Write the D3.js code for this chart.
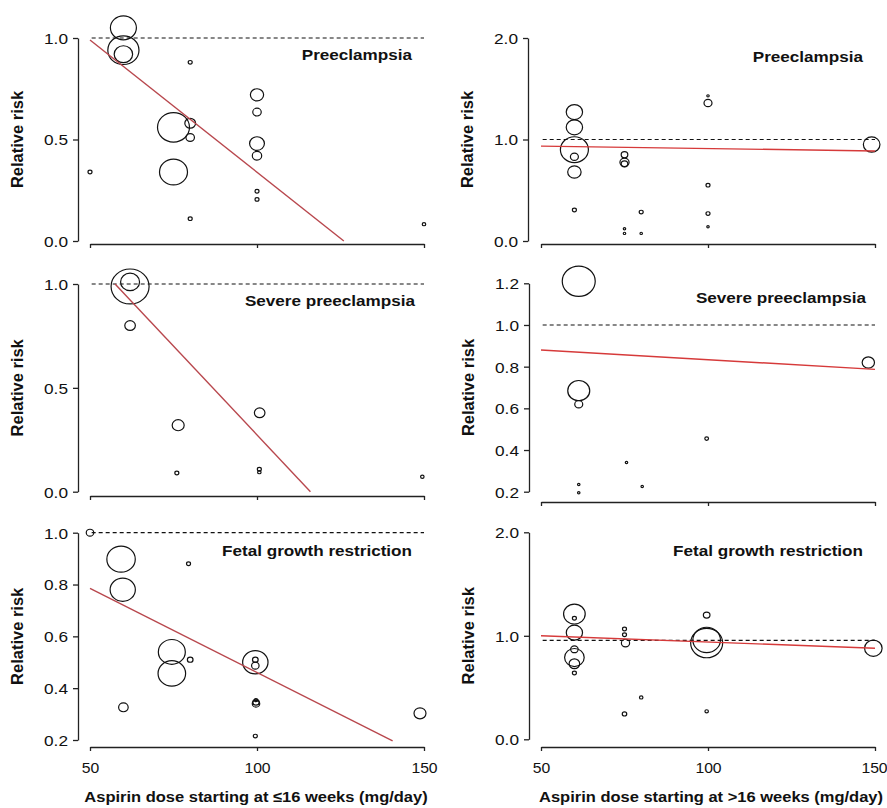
<!DOCTYPE html>
<html>
<head>
<meta charset="utf-8">
<script src="https://cdn.jsdelivr.net/npm/d3@7"></script>
<style>
  body { margin: 0; background: #fff; }
  svg { display: block; font-family: "Liberation Sans", Arial, sans-serif; }
</style>
</head>
<body>
<div id="chart"></div>
<script>
// ---- data ----
const xTicks = [50, 100, 150];
const xLabels = ['Aspirin dose starting at \u226416 weeks (mg/day)', 'Aspirin dose starting at >16 weeks (mg/day)'];
const titles = ['Preeclampsia', 'Preeclampsia', 'Severe preeclampsia', 'Severe preeclampsia',
  'Fetal growth restriction', 'Fetal growth restriction'];

// Preeclampsia, <=16 weeks
const preLowDose = [50, 60, 60, 60, 80, 75, 75, 80, 80, 80, 100, 100, 100, 100, 100, 100, 150];
const preLowRR = [0.34, 1.05, 0.94, 0.92, 0.88, 0.56, 0.34, 0.58, 0.51, 0.11, 0.72, 0.635, 0.48, 0.42, 0.245, 0.205, 0.083];
const preLowWeight = [4, 169, 243, 85, 4, 256, 196, 29, 18, 4, 44, 18, 55, 22, 4, 4, 3];
const preLowFit = [[50, 0.99], [126, 0]];
const preLowTicks = [0, 0.5, 1.0];

// Preeclampsia, >16 weeks
const preHighDose = [60, 60, 60, 60, 60, 60, 75, 75, 75, 75, 75, 80, 80, 100, 100, 100, 100, 100, 149];
const preHighRR = [1.27, 1.12, 0.90, 0.83, 0.68, 0.305, 0.85, 0.775, 0.76, 0.12, 0.075, 0.285, 0.075, 1.43, 1.36, 0.55, 0.27, 0.14, 0.95];
const preHighWeight = [67, 67, 196, 16, 45, 4, 11, 21, 11, 1.5, 1.5, 4, 1.5, 1.5, 16, 4, 4, 1.5, 69];
const preHighFit = [[50, 0.935], [150, 0.887]];
const preHighTicks = [0, 1.0, 2.0];

// Severe preeclampsia, <=16 weeks
const sevLowDose = [62, 62, 62, 76.4, 76, 100.8, 100.7, 100.7, 149.5];
const sevLowRR = [0.988, 1.01, 0.80, 0.32, 0.09, 0.38, 0.108, 0.094, 0.072];
const sevLowWeight = [361, 90, 28, 36, 4, 28, 4, 3, 3];
const sevLowFit = [[57.5, 1.0], [116, 0]];
const sevLowTicks = [0, 0.5, 1.0];

// Severe preeclampsia, >16 weeks
const sevHighDose = [61.3, 61.3, 61.3, 61.3, 61.3, 75.6, 80.3, 99.6, 148];
const sevHighRR = [1.21, 0.685, 0.62, 0.235, 0.195, 0.34, 0.225, 0.455, 0.82];
const sevHighWeight = [272, 121, 16, 1.5, 1.5, 1.5, 1.5, 3.5, 38];
const sevHighFit = [[50, 0.88], [150, 0.787]];
const sevHighTicks = [0.2, 0.4, 0.6, 0.8, 1.0, 1.2];

// Fetal growth restriction, <=16 weeks
const fgrLowDose = [50, 59.3, 59.8, 79.5, 60, 74.5, 74.5, 80, 99.5, 99.5, 99.5, 99.7, 99.7, 99.7, 99.5, 148.8];
const fgrLowRR = [1.0, 0.898, 0.78, 0.88, 0.326, 0.54, 0.457, 0.51, 0.50, 0.51, 0.487, 0.354, 0.346, 0.34, 0.215, 0.303];
const fgrLowWeight = [14, 202, 159, 4, 23, 182, 190, 8, 161, 8, 14, 3, 10, 14, 4, 36];
const fgrLowFit = [[50, 0.785], [140.6, 0.197]];
const fgrLowTicks = [0.2, 0.4, 0.6, 0.8, 1.0];

// Fetal growth restriction, >16 weeks
const fgrHighDose = [60, 60, 60, 60, 60, 60, 60, 75, 75, 75.3, 75, 80, 99.6, 99.6, 99.6, 99.6, 149.5];
const fgrHighRR = [1.21, 1.17, 1.03, 0.87, 0.79, 0.73, 0.64, 1.066, 1.01, 0.93, 0.245, 0.405, 1.20, 0.93, 0.96, 0.27, 0.88];
const fgrHighWeight = [117, 4, 66, 14, 96, 28, 4, 4, 4, 17, 5, 3, 11, 256, 190, 3, 77];
const fgrHighFit = [[50, 1.0], [150, 0.88]];
const fgrHighTicks = [0, 1.0, 2.0];

const refLevels = [1.0, 1.0, 1.0, 1.0, 1.0, 0.955];

// ---- layout ----
const WIDTH = 887, HEIGHT = 808;
const LEFT_X = [90, 424], RIGHT_X = [541, 875];

const panels = [
  { dose: preLowDose, rr: preLowRR, w: preLowWeight, fit: preLowFit, ticks: preLowTicks,
    xr: LEFT_X, yr: [241, 38], axisX: 78, axisY: 244, titleX: 412, titleY: 60, red: '#b8474d' },
  { dose: preHighDose, rr: preHighRR, w: preHighWeight, fit: preHighFit, ticks: preHighTicks,
    xr: RIGHT_X, yr: [241, 38], axisX: 528, axisY: 244, titleX: 863, titleY: 62, red: '#d63a3a' },
  { dose: sevLowDose, rr: sevLowRR, w: sevLowWeight, fit: sevLowFit, ticks: sevLowTicks,
    xr: LEFT_X, yr: [491.7, 284], axisX: 78, axisY: 496, titleX: 415, titleY: 306, red: '#b8474d' },
  { dose: sevHighDose, rr: sevHighRR, w: sevHighWeight, fit: sevHighFit, ticks: sevHighTicks,
    xr: RIGHT_X, yr: [491.7, 283.3], axisX: 529, axisY: 502, titleX: 866, titleY: 303, red: '#d63a3a' },
  { dose: fgrLowDose, rr: fgrLowRR, w: fgrLowWeight, fit: fgrLowFit, ticks: fgrLowTicks,
    xr: LEFT_X, yr: [740, 532.7], axisX: 78, axisY: 747, titleX: 412, titleY: 556, red: '#b8474d', bottom: 0 },
  { dose: fgrHighDose, rr: fgrHighRR, w: fgrHighWeight, fit: fgrHighFit, ticks: fgrHighTicks,
    xr: RIGHT_X, yr: [739.3, 532.3], axisX: 529, axisY: 747, titleX: 863, titleY: 556, red: '#d63a3a', bottom: 1 }
];

const svg = d3.select('#chart').append('svg')
  .attr('width', WIDTH)
  .attr('height', HEIGHT);

const rScale = d3.scaleSqrt().domain([0, 256]).range([0, 16]);
const fmt = d3.format('.1f');

panels.forEach((p, i) => {
  const x = d3.scaleLinear().domain([50, 150]).range(p.xr);
  const y = d3.scaleLinear().domain(d3.extent(p.ticks)).range(p.yr);
  const g = svg.append('g');

  // y axis
  const yAxis = g.append('g')
    .attr('transform', `translate(${p.axisX},0)`)
    .call(d3.axisLeft(y).tickValues(p.ticks).tickFormat(fmt).tickSize(5).tickSizeOuter(0));
  yAxis.selectAll('text')
    .attr('x', 0).attr('dy', '0.36em')
    .attr('transform', 'translate(-10,0) scale(1.15,1)')
    .style('font-size', '15px').style('fill', '#111');

  // x axis
  const xAxis = g.append('g')
    .attr('transform', `translate(0,${p.axisY})`)
    .call(d3.axisBottom(x).tickValues(xTicks).tickSize(4).tickSizeOuter(0)
      .tickFormat(p.bottom === undefined ? '' : d3.format('d')));
  xAxis.selectAll('text')
    .attr('y', 0).attr('dy', 0)
    .attr('transform', (d, k) => `translate(${p.bottom === 1 && k === 2 ? -1 : 0},26) scale(1.05,1)`)
    .style('font-size', '15px').style('fill', '#111');

  g.selectAll('.domain, .tick line').style('stroke', '#222').style('stroke-width', 1.3);

  // y label
  g.append('text')
    .attr('transform', `translate(${p.axisX - 61},${(p.yr[0] + p.yr[1]) / 2}) rotate(-90)`)
    .attr('text-anchor', 'middle')
    .attr('dy', '0.36em')
    .style('font-size', '16.5px').style('font-weight', 'bold').style('fill', '#111')
    .text('Relative risk');

  // reference line
  g.append('line')
    .attr('x1', x(50.5)).attr('x2', x(150))
    .attr('y1', y(refLevels[i])).attr('y2', y(refLevels[i]))
    .style('stroke', '#111').style('stroke-width', 1.2)
    .style('stroke-dasharray', '4,3');

  // bubbles
  const pts = p.dose.map((d, j) => ({ dose: d, rr: p.rr[j], w: p.w[j] }));
  g.selectAll('ellipse')
    .data(pts)
    .enter()
    .append('ellipse')
    .attr('cx', d => x(d.dose))
    .attr('cy', d => y(d.rr))
    .attr('rx', d => rScale(d.w))
    .attr('ry', d => rScale(d.w) * 0.92)
    .style('fill', 'none')
    .style('stroke', '#111')
    .style('stroke-width', 1.2);

  // meta-regression line
  g.append('path')
    .attr('d', d3.line().x(d => x(d[0])).y(d => y(d[1]))(p.fit))
    .style('fill', 'none')
    .style('stroke', p.red)
    .style('stroke-width', 1.4);

  // title
  g.append('text')
    .attr('transform', `translate(${p.titleX},${p.titleY}) scale(1.18,1)`)
    .attr('text-anchor', 'end')
    .style('font-size', '14.5px').style('font-weight', 'bold').style('fill', '#111')
    .text(titles[i]);

  // x label
  if (p.bottom !== undefined) {
    g.append('text')
      .attr('transform', `translate(${p.bottom === 0 ? 256 : 711},802) scale(1.1,1)`)
      .attr('text-anchor', 'middle')
      .style('font-size', '15px').style('font-weight', 'bold').style('fill', '#111')
      .text(xLabels[p.bottom]);
  }
});
</script>
</body>
</html>
